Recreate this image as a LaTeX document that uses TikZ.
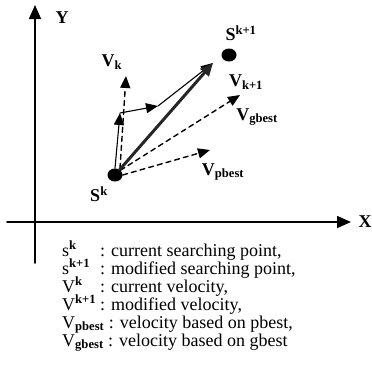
\documentclass[tikz,border=0pt]{standalone}
\usepackage{fontspec}
\setmainfont{Liberation Serif}
\usetikzlibrary{arrows.meta,shapes.geometric}

\begin{document}
\begin{tikzpicture}[x=1pt,y=-1pt,line cap=round,line join=round,
    >={Triangle[length=12pt,width=10pt]},
    dot/.style={ellipse,fill,minimum width=15pt,minimum height=13pt,inner sep=0pt},
    lbl/.style={font=\bfseries\fontsize{18}{18}\selectfont,inner sep=0pt},
    leg/.style={font=\fontsize{18}{18}\selectfont,inner sep=0pt,anchor=base west},
    vec/.style={->,line width=1.1pt},
    dvec/.style={->,line width=1.4pt,dash pattern=on 5pt off 4pt}]
  \useasboundingbox (0,0) rectangle (372,372);

  \coordinate (ybot) at (35,263);
  \coordinate (ytop) at (35,5);
  \coordinate (xleft) at (7,222);
  \coordinate (xright) at (351,222);
  \draw[line width=1.6pt,-{Triangle[length=14pt,width=12pt]}] (ybot) -- (ytop);
  \draw[line width=1.6pt,-{Triangle[length=14pt,width=12pt]}] (xleft) -- (xright);
  \node[lbl] (ylab) at (62,18) {Y};
  \node[lbl] (xlab) at (365,222) {X};

  \node[dot] (sk) at (115,175) {};
  \node[dot] (sk1) at (229,55) {};
  \node[lbl] (sklab) at (99,194) {S\textsuperscript{k}};
  \node[lbl] (sk1lab) at (241,33) {S\textsuperscript{k+1}};

  \coordinate (vk) at (126,76);
  \coordinate (vgbest) at (240,95);
  \coordinate (vpbest) at (210,150);
  \coordinate (mid) at (120,113);
  \coordinate (turn) at (158,106);
  \coordinate (tip) at (213,63);

  \draw[dvec] ([xshift=5pt]sk.north) -- (vk);
  \draw[dvec] (sk.north east) -- (vgbest);
  \draw[dvec] (sk.east) -- (vpbest);

  \draw[vec] (sk.north) -- (mid);
  \draw[vec] (mid) -- (turn);
  \draw[vec] (turn) -- (tip);
  \draw[->,line width=3pt,black!85,>={Triangle[length=13pt,width=11pt]}] (sk) -- (tip);

  \node[lbl] (vklab) at (112,62) {V\textsubscript{k}};
  \node[lbl] (vk1lab) at (246,82) {V\textsubscript{k+1}};
  \node[lbl] (vglab) at (257,117) {V\textsubscript{gbest}};
  \node[lbl] (vplab) at (223,172) {V\textsubscript{pbest}};

  \node[leg] (l1) at (62,256) {\makebox[38pt][l]{s\textsuperscript{\textbf{k}}}: current searching point,};
  \node[leg] (l2) at (62,274) {\makebox[38pt][l]{s\textsuperscript{\textbf{k+1}}}: modified searching point,};
  \node[leg] (l3) at (62,292) {\makebox[38pt][l]{V\textsuperscript{\textbf{k}}}: current velocity,};
  \node[leg] (l4) at (62,310) {\makebox[38pt][l]{V\textsuperscript{\textbf{k+1}}}: modified velocity,};
  \node[leg] (l5) at (62,328) {V\textsubscript{\textbf{pbest}} : velocity based on pbest,};
  \node[leg] (l6) at (62,346) {V\textsubscript{\textbf{gbest}} : velocity based on gbest};
\end{tikzpicture}
\end{document}
